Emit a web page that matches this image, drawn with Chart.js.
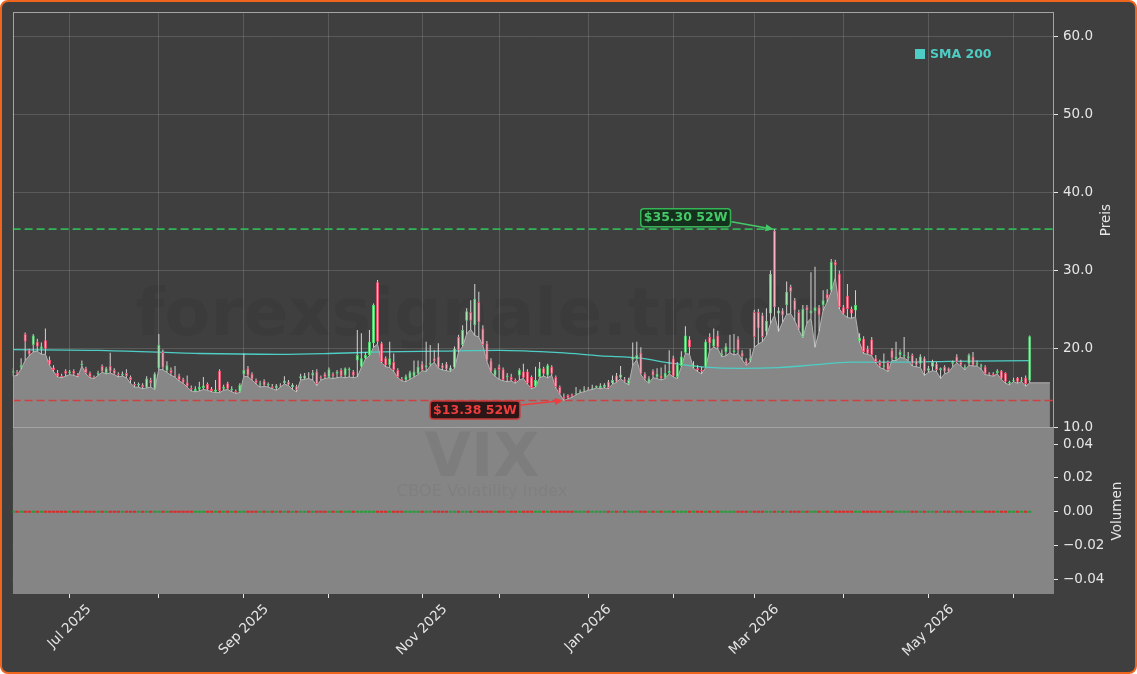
<!DOCTYPE html>
<html>
<head>
<meta charset="utf-8">
<script src="https://cdn.jsdelivr.net/npm/chart.js@4.4.1/dist/chart.umd.min.js"></script>
<style>
  html, body { margin: 0; padding: 0; background: #ffffff; }
  body { position: relative; width: 1137px; height: 674px; }
  #frame { position: absolute; left: 0; top: 0; width: 1137px; height: 674px; box-sizing: border-box;
           border: 2px solid #f0651e; border-radius: 8px; background: #3f3f3f; }
  canvas { position: absolute; left: 0; }
  #price { top: 0; }
  #volume { top: 410px; }
</style>
</head>
<body>
<div id="frame"></div>
<canvas id="price" width="1137" height="445"></canvas>
<canvas id="volume" width="1137" height="264"></canvas>
<script>
// month boundaries as trading-day index, labels on every second month
const monthIdx = [14, 36, 57, 78, 101, 120, 142, 163, 183, 205, 226, 247];
const monthLabels = ['Jul 2025', '', 'Sep 2025', '', 'Nov 2025', '', 'Jan 2026', '', 'Mar 2026', '', 'May 2026', ''];
const priceTicks = [10, 20, 30, 40, 50, 60];
const volTicks = [-0.04, -0.02, 0, 0.02, 0.04];

// VIX daily candles, one per trading day (Jun 2025 - Jun 2026)
const opens = [
  16.9, 17.0, 17.6, 21.9, 19.8, 20.5, 20.9, 20.0, 21.1, 18.6,
  17.6, 16.9, 16.5, 17.2, 16.9, 17.2, 16.7, 17.9, 17.5, 16.9,
  16.4, 16.7, 17.8, 16.9, 17.8, 17.3, 16.8, 16.6, 16.9, 16.4,
  15.5, 15.3, 15.4, 15.05, 16.0, 14.9, 17.5, 19.6, 17.2, 17.3,
  16.6, 16.6, 16.1, 15.7, 15.0, 14.6, 14.8, 15.0, 15.5, 14.9,
  14.5, 17.2, 14.9, 15.6, 14.7, 14.6, 14.5, 16.7, 17.5, 16.8,
  16.0, 15.4, 15.9, 15.3, 15.2, 15.0, 15.3, 15.6, 15.8, 15.1,
  15.2, 16.2, 16.2, 16.8, 16.6, 17.1, 16.4, 16.8, 16.4, 16.8,
  16.8, 17.3, 16.6, 17.3, 17.1, 18.5, 17.7, 18.8, 19.2, 20.7,
  28.5, 20.7, 18.8, 17.9, 18.3, 17.3, 16.1, 16.0, 16.2, 16.5,
  16.8, 18.1, 17.6, 18.0, 18.8, 19.0, 17.9, 18.1, 17.2, 17.6,
  21.5, 20.5, 23.6, 24.7, 23.0, 26.0, 22.6, 20.7, 18.5, 16.6,
  17.7, 17.4, 16.4, 16.4, 16.0, 16.6, 17.1, 17.1, 16.4, 15.2,
  16.4, 17.5, 16.6, 17.7, 16.4, 15.1, 13.9, 14.1, 14.2, 14.2,
  14.5, 14.7, 14.9, 14.9, 15.1, 15.0, 15.1, 15.8, 15.6, 16.6,
  16.3, 16.1, 15.5, 18.6, 18.7, 19.5, 16.8, 15.7, 17.2, 16.4,
  16.6, 16.3, 16.9, 18.8, 16.4, 17.8, 19.5, 21.2, 17.7, 17.5,
  17.3, 17.7, 21.5, 20.3, 21.7, 19.2, 19.6, 20.0, 19.6, 21.3,
  19.5, 18.5, 18.5, 24.7, 24.7, 24.3, 22.2, 24.5, 35.1, 24.5,
  24.9, 25.6, 27.9, 26.2, 24.7, 21.5, 25.3, 24.5, 24.8, 25.3,
  25.6, 27.0, 27.5, 31.1, 29.6, 25.3, 26.8, 25.1, 24.9, 21.0,
  21.3, 20.0, 21.2, 18.8, 18.3, 17.7, 18.3, 19.8, 18.7, 19.2,
  19.0, 18.8, 19.2, 18.5, 18.1, 18.8, 17.2, 17.7, 18.1, 17.3,
  17.7, 17.5, 18.1, 19.0, 18.3, 17.5, 18.1, 19.0, 18.0, 17.7,
  17.7, 16.9, 16.8, 16.9, 17.2, 16.9, 15.6, 15.9, 16.3, 15.9,
  16.3, 15.9
];
const highs = [
  17.5, 17.3, 18.8, 22.1, 20.0, 21.9, 21.3, 20.8, 22.6, 19.0,
  17.9, 17.3, 16.8, 17.4, 17.3, 17.4, 16.9, 18.5, 17.7, 17.1,
  16.6, 17.2, 18.0, 17.7, 19.5, 17.5, 17.0, 17.1, 17.4, 16.6,
  15.8, 15.7, 15.6, 16.5, 16.3, 17.0, 21.9, 19.9, 18.4, 17.6,
  17.8, 16.8, 16.3, 16.6, 15.3, 15.2, 15.8, 16.4, 15.7, 15.1,
  16.0, 17.4, 15.4, 15.8, 15.2, 14.8, 15.6, 19.4, 17.8, 17.0,
  16.2, 15.9, 16.1, 15.7, 15.5, 15.5, 15.6, 16.5, 16.0, 15.6,
  15.4, 16.8, 16.9, 17.0, 17.3, 17.4, 16.6, 17.0, 17.6, 17.0,
  17.3, 17.5, 17.6, 17.6, 17.3, 22.4, 22.0, 19.6, 22.4, 25.8,
  28.8, 20.9, 19.0, 20.9, 19.4, 17.5, 16.4, 16.7, 17.2, 18.5,
  18.5, 18.4, 20.9, 20.5, 19.8, 20.7, 18.2, 18.3, 17.9, 20.3,
  21.8, 23.0, 25.2, 26.2, 28.3, 27.3, 23.0, 21.0, 18.8, 17.5,
  18.0, 17.6, 16.9, 16.8, 16.2, 17.5, 18.1, 17.4, 16.6, 17.7,
  18.3, 17.7, 18.1, 17.9, 16.6, 15.3, 14.3, 14.2, 14.3, 15.1,
  14.8, 15.2, 15.1, 15.4, 15.3, 15.6, 15.6, 16.0, 16.6, 16.9,
  17.8, 16.4, 16.3, 20.8, 20.9, 20.2, 17.0, 16.5, 17.4, 17.5,
  17.6, 18.0, 19.8, 19.1, 18.3, 19.7, 22.9, 21.6, 18.4, 17.9,
  17.7, 21.2, 22.0, 22.6, 22.3, 19.9, 20.7, 21.8, 21.9, 21.6,
  19.8, 18.8, 20.0, 25.0, 25.1, 24.6, 25.2, 30.0, 35.3, 25.3,
  25.2, 28.6, 28.2, 26.5, 25.0, 25.6, 25.6, 29.8, 30.5, 25.6,
  27.5, 27.6, 31.5, 31.4, 30.0, 25.6, 28.3, 25.4, 27.5, 22.0,
  21.6, 20.4, 21.5, 19.2, 18.6, 19.4, 18.5, 20.1, 20.9, 19.9,
  21.5, 19.6, 19.4, 18.8, 19.3, 19.0, 17.8, 18.6, 18.3, 17.6,
  17.9, 17.6, 18.5, 19.3, 18.6, 18.0, 19.4, 19.6, 18.5, 18.1,
  17.9, 17.0, 17.0, 17.4, 17.3, 17.0, 15.9, 16.3, 16.4, 16.4,
  16.6, 21.7
];
const lows = [
  16.5, 16.6, 17.4, 18.5, 19.1, 19.6, 19.7, 19.3, 19.3, 17.9,
  17.1, 16.4, 16.3, 16.5, 16.7, 16.6, 16.4, 17.8, 16.8, 16.3,
  16.2, 16.6, 17.0, 16.8, 16.9, 16.7, 16.4, 16.5, 16.3, 15.6,
  15.1, 15.1, 14.9, 15.0, 15.1, 14.8, 17.4, 17.3, 17.0, 16.6,
  16.4, 15.9, 15.6, 15.1, 14.6, 14.5, 14.6, 14.8, 14.7, 14.5,
  14.4, 14.4, 14.7, 14.8, 14.5, 14.3, 14.4, 16.5, 16.4, 16.0,
  15.5, 15.1, 15.2, 15.1, 14.9, 14.7, 15.1, 15.5, 15.3, 14.8,
  14.5, 16.0, 16.1, 16.2, 16.0, 15.3, 16.0, 16.2, 16.3, 16.2,
  16.3, 16.4, 16.3, 16.4, 16.3, 16.4, 17.6, 18.7, 19.1, 20.2,
  20.6, 18.2, 17.7, 17.6, 17.1, 16.3, 15.9, 15.8, 16.1, 16.4,
  16.7, 17.2, 17.1, 17.8, 18.3, 17.5, 17.3, 17.2, 17.1, 17.5,
  19.6, 20.3, 21.9, 22.5, 21.7, 21.5, 20.4, 18.4, 17.0, 16.5,
  16.1, 15.9, 15.8, 15.9, 15.6, 16.0, 16.2, 15.5, 14.9, 15.1,
  16.3, 16.5, 16.3, 16.6, 15.0, 14.2, 13.38, 13.6, 13.8, 14.1,
  14.4, 14.5, 14.7, 14.8, 15.0, 14.9, 15.0, 14.9, 15.5, 15.7,
  16.2, 15.7, 15.4, 17.9, 18.6, 16.7, 16.0, 15.6, 16.3, 16.2,
  16.0, 16.2, 16.8, 16.4, 16.2, 17.7, 19.4, 19.3, 17.5, 17.1,
  16.8, 17.6, 19.8, 20.2, 20.0, 19.0, 19.1, 19.5, 19.2, 19.4,
  18.6, 17.9, 18.3, 20.2, 20.6, 20.9, 21.7, 23.2, 24.3, 22.2,
  23.4, 24.4, 24.5, 23.6, 22.4, 21.4, 23.3, 23.9, 20.2, 22.2,
  24.9, 26.0, 27.3, 29.1, 25.1, 24.4, 24.0, 23.9, 24.1, 20.8,
  19.4, 19.3, 19.1, 18.2, 17.6, 17.4, 17.1, 18.5, 18.5, 18.9,
  18.8, 18.5, 17.8, 17.7, 17.6, 16.6, 17.0, 17.2, 17.1, 16.2,
  16.8, 17.0, 17.7, 18.2, 17.8, 17.3, 17.9, 17.8, 17.8, 17.4,
  16.7, 16.6, 16.5, 16.8, 16.1, 15.6, 15.4, 15.8, 15.6, 15.8,
  15.2, 15.65
];
const closes = [
  17.2, 16.8, 17.9, 20.9, 19.3, 21.7, 20.3, 20.3, 20.0, 18.0,
  17.3, 16.5, 16.4, 16.8, 17.1, 16.8, 16.5, 18.1, 16.9, 16.4,
  16.3, 16.9, 17.1, 17.5, 17.1, 16.8, 16.6, 16.8, 16.5, 16.0,
  15.3, 15.5, 15.1, 16.2, 15.6, 16.8, 20.5, 17.6, 17.9, 16.9,
  16.5, 16.0, 15.7, 15.2, 14.8, 14.9, 15.1, 15.3, 14.8, 14.6,
  14.8, 14.6, 15.1, 14.9, 14.9, 14.4, 15.4, 17.3, 16.6, 16.1,
  15.6, 15.6, 15.3, 15.5, 15.0, 15.3, 15.2, 15.9, 15.4, 15.4,
  14.7, 16.5, 16.6, 16.7, 16.9, 15.5, 16.2, 16.4, 17.4, 16.5,
  17.1, 16.5, 17.5, 17.4, 16.6, 19.2, 18.8, 19.2, 20.9, 25.6,
  20.9, 18.3, 17.9, 18.8, 17.3, 16.4, 16.0, 16.5, 17.0, 17.1,
  17.7, 17.3, 17.9, 18.2, 18.4, 17.6, 17.5, 17.4, 17.6, 20.0,
  19.8, 22.4, 24.8, 23.6, 26.4, 23.4, 20.5, 18.5, 17.1, 17.3,
  17.3, 16.0, 16.6, 16.0, 15.8, 17.3, 16.3, 15.6, 15.0, 16.0,
  17.5, 16.8, 17.9, 16.8, 15.1, 14.3, 13.6, 13.7, 13.9, 14.3,
  14.6, 14.8, 14.8, 15.0, 15.2, 15.3, 15.4, 15.0, 16.0, 15.8,
  16.7, 15.8, 16.0, 19.0, 19.2, 16.8, 16.1, 16.2, 16.6, 16.8,
  16.2, 16.9, 17.2, 16.5, 18.0, 19.0, 21.7, 20.2, 17.9, 17.3,
  17.1, 20.9, 20.7, 21.3, 20.2, 19.4, 20.3, 20.1, 19.8, 19.8,
  19.0, 18.0, 18.8, 21.5, 22.6, 21.5, 23.6, 29.6, 25.3, 24.9,
  24.3, 27.3, 27.3, 24.9, 22.6, 25.1, 24.9, 24.9, 25.3, 24.3,
  26.2, 26.4, 31.1, 30.7, 25.3, 24.5, 25.1, 24.5, 25.6, 21.4,
  19.6, 19.4, 19.2, 18.3, 17.8, 17.9, 17.3, 18.8, 19.0, 19.6,
  19.2, 19.0, 18.1, 17.9, 19.0, 17.1, 17.5, 18.3, 17.3, 17.5,
  17.1, 17.1, 18.3, 18.3, 17.9, 17.7, 19.2, 17.9, 18.2, 17.9,
  16.8, 16.8, 16.6, 17.2, 16.2, 15.8, 15.8, 16.0, 15.8, 16.0,
  15.5, 21.6
];
// SMA 200 read at a few points along the line
const smaIdx = [0, 21, 46, 66, 78, 91, 105, 120, 135, 145, 155, 162, 170, 180, 189, 197, 207, 219, 231, 251];
const smaVals = [19.9, 19.8, 19.4, 19.3, 19.4, 19.6, 19.7, 19.8, 19.5, 19.1, 18.8, 18.2, 17.7, 17.5, 17.6, 17.9, 18.3, 18.3, 18.4, 18.5];
// the index reports no volume
const volumes = new Array(closes.length).fill(0);

const xMin = -0.1, xMax = 257, areaEndIdx = 256;
const priceMin = 10, priceMax = 62.93;
const volMin = -0.0487, volMax = 0.0495;

const high52 = Math.max(...highs), low52 = Math.min(...lows);
const hiIdx = highs.indexOf(high52), loIdx = lows.indexOf(low52);

const font = "'DejaVu Sans', sans-serif";
const textColor = '#e6e6e6';
const gridColor = 'rgba(255,255,255,0.14)';
const spineColor = '#a4a4a4';
const smaColor = '#4ecdc4';
const upFill = '#a9eeb6', upEdge = '#4fd26e';
const downFill = '#ffb0c0', downEdge = '#f0506f';

const isUp = closes.map((c, i) => c >= opens[i]);
const idx = closes.map((c, i) => i);

function verticalTitle(ctx, text, x, y) {
  ctx.save();
  ctx.translate(x, y);
  ctx.rotate(-Math.PI / 2);
  ctx.font = '13.5px ' + font;
  ctx.fillStyle = textColor;
  ctx.textAlign = 'center';
  ctx.textBaseline = 'middle';
  ctx.fillText(text, 0, 0);
  ctx.restore();
}

function frame(ctx, a) {
  ctx.save();
  ctx.strokeStyle = spineColor;
  ctx.lineWidth = 1;
  ctx.strokeRect(Math.round(a.left) + 0.5, Math.round(a.top) - 0.5, Math.round(a.right - a.left) - 1, Math.round(a.bottom - a.top) + 1);
  ctx.restore();
}

function drawTag(ctx, text, px, py, dy, main, fill, edge) {
  ctx.save();
  ctx.font = 'bold 12.5px ' + font;
  const w = ctx.measureText(text).width + 6, h = 18;
  const right = px - 44, left = right - w, cy = py + dy;
  ctx.fillStyle = fill;
  ctx.strokeStyle = edge;
  ctx.lineWidth = 1.5;
  ctx.beginPath();
  ctx.roundRect(left, cy - h / 2, w, h, 3);
  ctx.fill();
  ctx.stroke();
  ctx.fillStyle = main;
  ctx.textAlign = 'center';
  ctx.textBaseline = 'middle';
  ctx.fillText(text, left + w / 2, cy + 0.5);
  // arrow to the extreme candle
  const sx = right + 1, sy = cy + (dy < 0 ? 4 : -5);
  const ex = px - 1, ey = py;
  const ang = Math.atan2(ey - sy, ex - sx);
  ctx.strokeStyle = main;
  ctx.lineWidth = 1.5;
  ctx.beginPath();
  ctx.moveTo(sx, sy);
  ctx.lineTo(ex - 7 * Math.cos(ang), ey - 7 * Math.sin(ang));
  ctx.stroke();
  ctx.fillStyle = main;
  ctx.beginPath();
  ctx.moveTo(ex, ey);
  ctx.lineTo(ex - 8 * Math.cos(ang) + 3.5 * Math.sin(ang), ey - 8 * Math.sin(ang) - 3.5 * Math.cos(ang));
  ctx.lineTo(ex - 8 * Math.cos(ang) - 3.5 * Math.sin(ang), ey - 8 * Math.sin(ang) + 3.5 * Math.cos(ang));
  ctx.closePath();
  ctx.fill();
  ctx.restore();
}

const priceDecor = {
  id: 'priceDecor',
  beforeDatasetsDraw(chart) {
    const ctx = chart.ctx;
    ctx.save();
    ctx.font = 'bold 60px ' + font;
    const w = ctx.measureText('forexsignale.trade').width;
    ctx.font = 'bold ' + (60 * 695 / w).toFixed(1) + 'px ' + font;
    ctx.fillStyle = 'rgba(0,0,0,0.05)';
    ctx.textAlign = 'center';
    ctx.textBaseline = 'middle';
    ctx.fillText('forexsignale.trade', 483, 318);
    ctx.restore();
  },
  afterDatasetsDraw(chart) {
    const ctx = chart.ctx, x = chart.scales.x, y = chart.scales.y;
    drawTag(ctx, '$' + high52.toFixed(2) + ' 52W', x.getPixelForValue(hiIdx), y.getPixelForValue(high52), -11.5,
      '#46c968', '#15301d', '#35b556');
    drawTag(ctx, '$' + low52.toFixed(2) + ' 52W', x.getPixelForValue(loIdx), y.getPixelForValue(low52), 9.5,
      '#ef3d3d', '#2a1616', '#c83a3a');
  },
  afterDraw(chart) {
    const ctx = chart.ctx;
    frame(ctx, chart.chartArea);
    ctx.save();
    ctx.fillStyle = smaColor;
    ctx.fillRect(915, 49, 10, 10);
    ctx.font = 'bold 12.5px ' + font;
    ctx.textAlign = 'left';
    ctx.textBaseline = 'middle';
    ctx.fillText('SMA 200', 930, 54.5);
    ctx.restore();
    verticalTitle(ctx, 'Preis', 1106, (chart.chartArea.top + chart.chartArea.bottom) / 2);
  }
};

const volumeDecor = {
  id: 'volumeDecor',
  afterDatasetsDraw(chart) {
    const ctx = chart.ctx;
    ctx.save();
    ctx.textAlign = 'center';
    ctx.textBaseline = 'middle';
    ctx.fillStyle = 'rgba(0,0,0,0.055)';
    ctx.font = 'bold 60px ' + font;
    ctx.fillText('VIX', 482, 460 - 410);
    ctx.fillStyle = 'rgba(0,0,0,0.045)';
    ctx.font = '16.3px ' + font;
    ctx.fillText('CBOE Volatility Index', 482, 492 - 410);
    ctx.restore();
  },
  afterDraw(chart) {
    const ctx = chart.ctx, a = chart.chartArea, x = chart.scales.x;
    ctx.save();
    ctx.font = '13.5px ' + font;
    ctx.fillStyle = textColor;
    monthIdx.forEach((m, k) => {
      const label = monthLabels[k];
      if (!label) return;
      const w = ctx.measureText(label).width;
      const top = a.bottom + 4 + 3.5;
      const cy = top + (w + 16) * Math.SQRT1_2 / 2;
      ctx.save();
      ctx.translate(x.getPixelForValue(m), cy);
      ctx.rotate(-Math.PI / 4);
      ctx.textAlign = 'center';
      ctx.textBaseline = 'middle';
      ctx.fillText(label, 0, 0);
      ctx.restore();
    });
    ctx.restore();
    verticalTitle(ctx, 'Volumen', 1117, (a.top + a.bottom) / 2);
  }
};

new Chart(document.getElementById('price'), {
  type: 'line',
  data: {
    datasets: [
      {
        type: 'line', label: 'Low', order: 10,
        data: idx.map(i => ({ x: i, y: lows[i] })).concat([{ x: areaEndIdx, y: lows[lows.length - 1] }]),
        borderColor: '#b2b2b2', borderWidth: 1, backgroundColor: '#878787', fill: 'start', pointRadius: 0
      },
      {
        type: 'line', label: '52W high', order: 5,
        data: [{ x: xMin, y: high52 }, { x: xMax, y: high52 }],
        borderColor: '#33b457', borderWidth: 1.6, borderDash: [8, 4], pointRadius: 0, fill: false
      },
      {
        type: 'line', label: '52W low', order: 5,
        data: [{ x: xMin, y: low52 }, { x: xMax, y: low52 }],
        borderColor: '#cf4040', borderWidth: 1.6, borderDash: [8, 4], pointRadius: 0, fill: false
      },
      {
        type: 'line', label: 'SMA 200', order: 4,
        data: smaIdx.map((v, k) => ({ x: v, y: smaVals[k] })),
        borderColor: smaColor, borderWidth: 1.3, pointRadius: 0, fill: false, cubicInterpolationMode: 'monotone'
      },
      {
        type: 'bar', label: 'Wick', order: 2, grouped: false,
        data: idx.map(i => ({ x: i, y: [lows[i], highs[i]] })),
        backgroundColor: '#d4d4d4', barThickness: 1, borderWidth: 0, inflateAmount: 0
      },
      {
        type: 'bar', label: 'Body', order: 1, grouped: false,
        data: idx.map(i => ({ x: i, y: [opens[i], closes[i]] })),
        backgroundColor: isUp.map(u => u ? upFill : downFill),
        borderColor: isUp.map(u => u ? upEdge : downEdge),
        borderWidth: 1, borderSkipped: false, barThickness: 3, minBarLength: 1, inflateAmount: 0
      }
    ]
  },
  options: {
    responsive: false, animation: false, events: [],
    layout: { padding: { left: 12.6, top: 12, right: 0, bottom: 18 } },
    plugins: { legend: { display: false }, tooltip: { enabled: false } },
    scales: {
      x: {
        type: 'linear', min: xMin, max: xMax, offset: false,
        afterBuildTicks: s => { s.ticks = monthIdx.map(v => ({ value: v })); },
        ticks: { display: false },
        grid: { color: gridColor, drawTicks: false, offset: false },
        border: { display: false },
        afterFit: s => { s.height = 0; }
      },
      y: {
        position: 'right', min: priceMin, max: priceMax,
        afterBuildTicks: s => { s.ticks = priceTicks.map(v => ({ value: v })); },
        ticks: { color: textColor, font: { family: font, size: 13.5 }, padding: 5, callback: v => v.toFixed(1) },
        grid: { color: gridColor, tickColor: textColor, tickLength: 4 },
        border: { display: false },
        afterFit: s => { s.width = 83; }
      }
    }
  },
  plugins: [priceDecor]
});

new Chart(document.getElementById('volume'), {
  type: 'line',
  data: {
    datasets: [
      {
        type: 'line', label: 'Fill', order: 10,
        data: [{ x: xMin, y: lows[0] }].concat(idx.map(i => ({ x: i, y: lows[i] })), [{ x: xMax, y: lows[lows.length - 1] }]),
        borderWidth: 0, backgroundColor: '#858585', fill: 'start', pointRadius: 0
      },
      {
        type: 'bar', label: 'Volumen', order: 1, grouped: false,
        data: idx.map(i => ({ x: i, y: volumes[i] })),
        backgroundColor: isUp.map(u => u ? '#2a9a3c' : '#d62c2c'),
        barThickness: 3.4, minBarLength: 2, borderWidth: 0, inflateAmount: 0
      }
    ]
  },
  options: {
    responsive: false, animation: false, events: [],
    layout: { padding: { left: 12.6, top: 18, right: 0, bottom: 0 } },
    plugins: { legend: { display: false }, tooltip: { enabled: false } },
    scales: {
      x: {
        type: 'linear', min: xMin, max: xMax, offset: false,
        afterBuildTicks: s => { s.ticks = monthIdx.map(v => ({ value: v })); },
        ticks: { display: false },
        grid: { color: gridColor, tickColor: textColor, tickLength: 4, offset: false },
        border: { display: false },
        afterFit: s => { s.height = 80; }
      },
      y: {
        position: 'right', min: volMin, max: volMax,
        afterBuildTicks: s => { s.ticks = volTicks.map(v => ({ value: v })); },
        ticks: {
          color: textColor, font: { family: font, size: 13.5 }, padding: 5,
          callback: v => (v < -1e-9 ? '\u2212' : '') + Math.abs(v).toFixed(2)
        },
        grid: { color: gridColor, tickColor: textColor, tickLength: 4 },
        border: { display: false },
        afterFit: s => { s.width = 83; }
      }
    }
  },
  plugins: [volumeDecor]
});
</script>
</body>
</html>
